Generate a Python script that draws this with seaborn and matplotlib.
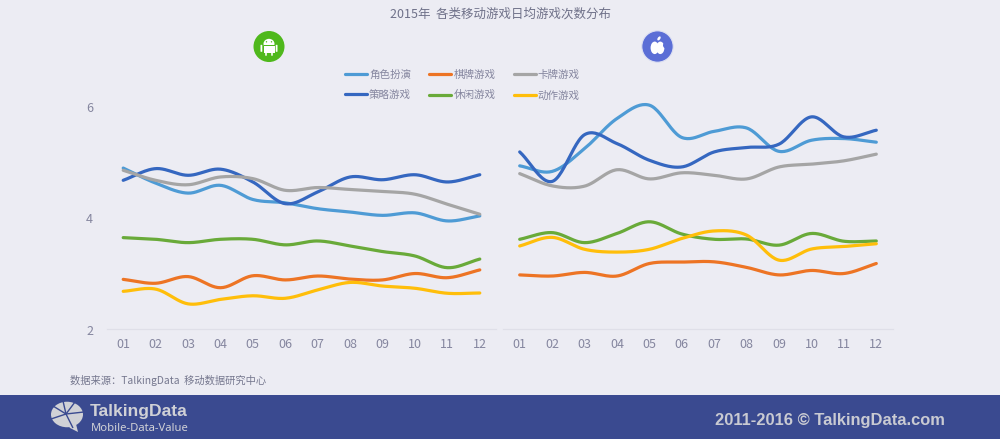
import numpy as np
import pandas as pd
import matplotlib
matplotlib.use("Agg")
import matplotlib.pyplot as plt
from matplotlib.patches import Circle, Rectangle, FancyBboxPatch, Polygon, Ellipse
import seaborn as sns

months = ["01","02","03","04","05","06","07","08","09","10","11","12"]
series_names = ["角色扮演","策略游戏","棋牌游戏","休闲游戏","卡牌游戏","动作游戏"]

android_role = [4.90,4.63,4.45,4.59,4.335,4.275,4.17,4.11,4.05,4.095,3.95,4.04]
android_strategy = [4.68,4.89,4.77,4.88,4.65,4.26,4.47,4.74,4.69,4.78,4.65,4.78]
android_chess = [2.90,2.83,2.95,2.75,2.965,2.89,2.96,2.905,2.89,3.005,2.93,3.07]
android_casual = [3.65,3.62,3.56,3.62,3.62,3.52,3.59,3.50,3.40,3.32,3.11,3.265]
android_card = [4.86,4.68,4.60,4.74,4.71,4.50,4.55,4.515,4.48,4.43,4.25,4.07]
android_action = [2.685,2.725,2.46,2.54,2.605,2.56,2.71,2.845,2.78,2.74,2.65,2.655]

ios_role = [4.94,4.84,5.25,5.79,6.03,5.45,5.56,5.62,5.20,5.40,5.43,5.365]
ios_strategy = [5.19,4.66,5.50,5.34,5.04,4.92,5.19,5.27,5.33,5.82,5.46,5.58]
ios_chess = [2.98,2.96,3.025,2.96,3.185,3.21,3.215,3.115,2.98,3.06,3.005,3.185]
ios_casual = [3.62,3.74,3.56,3.725,3.935,3.715,3.62,3.625,3.515,3.725,3.585,3.59]
ios_card = [4.80,4.58,4.575,4.87,4.705,4.815,4.77,4.705,4.92,4.97,5.03,5.15]
ios_action = [3.50,3.655,3.44,3.39,3.44,3.635,3.77,3.695,3.245,3.445,3.49,3.54]

colors = ["#4E9BD5","#3567C0","#ED7424","#69AA39","#A5A5A5","#FFBE0A"]
BG = "#ECECF3"
TXT = "#85869F"
FOOT = "#3A4A90"
FOOTTXT = "#C9CAD2"

sns.set_theme(style="white")
plt.rcParams["font.family"] = ["Noto Sans CJK SC", "DejaVu Sans"]


def smooth(values, n=24):
    """Draw-time curve through the monthly values (smoothed line style)."""
    p = np.asarray(values, float)
    m = np.gradient(p)
    xs, ys = [], []
    for i in range(len(p) - 1):
        t = np.linspace(0, 1, n, endpoint=False)
        h = (2*t**3-3*t**2+1)*p[i] + (t**3-2*t**2+t)*m[i] + (-2*t**3+3*t**2)*p[i+1] + (t**3-t**2)*m[i+1]
        xs.append(i + t)
        ys.append(h)
    xs.append([len(p) - 1.0])
    ys.append([p[-1]])
    return np.concatenate(xs), np.concatenate(ys)


def frame(groups):
    rows = []
    for name, vals in zip(series_names, groups):
        x, y = smooth(vals)
        rows.append(pd.DataFrame({"x": x, "y": y, "series": name}))
    return pd.concat(rows, ignore_index=True)


W, H = 1000, 439
fig = plt.figure(figsize=(10, 4.392), dpi=100, facecolor=BG)

# overlay with pixel coordinates for banner and icons
ov = fig.add_axes([0, 0, 1, 1], zorder=0)
ov.axis("off")
ov.add_patch(Rectangle((0, 395), W, 44, fc=FOOT, ec="none"))

# android icon
ov.add_patch(Circle((269, 46.7), 15.5, fc="#4FB81C", ec="none"))
ov.add_patch(Ellipse((269, 44), 11, 10, fc="white", ec="none"))
ov.add_patch(Rectangle((263.5, 45), 11, 1, fc="#4FB81C", ec="none"))
ov.add_patch(Rectangle((263.5, 46), 11, 7, fc="white", ec="none"))
ov.add_patch(FancyBboxPatch((261, 45.5), 0.8, 6, boxstyle="round,pad=0.5", fc="white", ec="none"))
ov.add_patch(FancyBboxPatch((276.2, 45.5), 0.8, 6, boxstyle="round,pad=0.5", fc="white", ec="none"))
ov.add_patch(FancyBboxPatch((265.6, 52.5), 0.8, 3, boxstyle="round,pad=0.4", fc="white", ec="none"))
ov.add_patch(FancyBboxPatch((271.6, 52.5), 0.8, 3, boxstyle="round,pad=0.4", fc="white", ec="none"))
ov.add_patch(Circle((266.5, 42), 0.7, fc="#4FB81C", ec="none"))
ov.add_patch(Circle((271.5, 42), 0.7, fc="#4FB81C", ec="none"))

# apple icon
ov.add_patch(Circle((657.5, 46.7), 15.7, fc="#5B6ED6", ec="#DDE0F2", lw=0.8))
ov.add_patch(Ellipse((654.7, 48), 8.2, 12.5, fc="white", ec="none"))
ov.add_patch(Ellipse((660.3, 48), 8.2, 12.5, fc="white", ec="none"))
ov.add_patch(Ellipse((659, 38.6), 2.6, 4.6, angle=35, fc="white", ec="none"))
ov.add_patch(Circle((666, 45.5), 3, fc="#5B6ED6", ec="none"))

# TalkingData logo
lc = "#D0D1D6"
ov.add_patch(Ellipse((67, 414.5), 32, 25.5, fc=lc, ec="none"))
ov.add_patch(Polygon([(67, 424), (76, 424), (78, 432), (70, 428)], fc=lc, ec="none"))
for end in [(63, 401), (75, 402), (84, 412), (73, 428), (51, 419), (53, 406)]:
    ov.plot([66, end[0]], [414, end[1]], color=FOOT, lw=1.0, solid_capstyle="butt")
ov.set_xlim(0, W); ov.set_ylim(H, 0)

ov.text(90, 411, "TalkingData", fontsize=12.6, fontweight="bold", color=lc,
        family="Liberation Sans", ha="left", va="center")
ov.text(91, 428.5, "Mobile-Data-Value", fontsize=8.1, color=lc, family="Noto Sans", ha="left", va="center")
ov.text(945, 420, "2011-2016 © TalkingData.com", fontsize=11.9, fontweight="bold", color=FOOTTXT,
        family="Liberation Sans", ha="right", va="center")

ov.text(500.5, 14.5, "2015年  各类移动游戏日均游戏次数分布", fontsize=9, color="#6F7189", ha="center", va="center")
ov.text(70, 380.5, "数据来源：TalkingData  移动数据研究中心", fontsize=7.4, color="#75778E", ha="left", va="center")


def panel(x0, x1, groups, show_y):
    y_bottom, y_top = 329.5, 107.0
    ax = fig.add_axes([x0 / W, 1 - y_bottom / H, (x1 - x0) / W, (y_bottom - y_top) / H], zorder=2)
    ax.patch.set_alpha(0)
    sns.lineplot(data=frame(groups), x="x", y="y", hue="series", hue_order=series_names,
                 palette=colors, estimator=None, sort=False, linewidth=2.3, ax=ax, legend=True)
    for ln in ax.get_lines():
        ln.set_solid_capstyle("round")
        ln.set_clip_on(False)
    handles, labels = ax.get_legend_handles_labels()
    ax.get_legend().remove()
    ax.set_xlim(-0.5, 11.5)
    ax.set_ylim(2, 6)
    ax.set_xticks(range(12))
    ax.set_xticklabels(months)
    ax.set_yticks([2, 4, 6])
    ax.set_xlabel(""); ax.set_ylabel("")
    ax.tick_params(axis="x", length=0, pad=6, labelsize=9, labelcolor=TXT)
    ax.tick_params(axis="y", length=0, pad=10, labelsize=9, labelcolor=TXT)
    if not show_y:
        ax.tick_params(axis="y", labelleft=False)
    for s in ["top", "left", "right"]:
        ax.spines[s].set_visible(False)
    ax.spines["bottom"].set_color("#DFDFE8")
    ax.spines["bottom"].set_linewidth(0.9)
    ax.grid(False)
    return handles, labels


android_groups = [android_role, android_strategy, android_chess, android_casual, android_card, android_action]
ios_groups = [ios_role, ios_strategy, ios_chess, ios_casual, ios_card, ios_action]
handles, labels = panel(107, 496, android_groups, True)
panel(503.5, 892.5, ios_groups, False)

leg = fig.legend(handles, labels, ncol=3, loc="upper left", bbox_to_anchor=(341 / W, 1 - 66.5 / H),
                 frameon=False, fontsize=7.6, labelcolor=TXT, handlelength=2.1, handletextpad=0.2,
                 columnspacing=1.72, labelspacing=0.95, borderaxespad=0, borderpad=0.35)
for h in leg.get_lines():
    h.set_linewidth(2.3)
    h.set_solid_capstyle("round")

fig.savefig("out.png", dpi=100, facecolor=BG)
